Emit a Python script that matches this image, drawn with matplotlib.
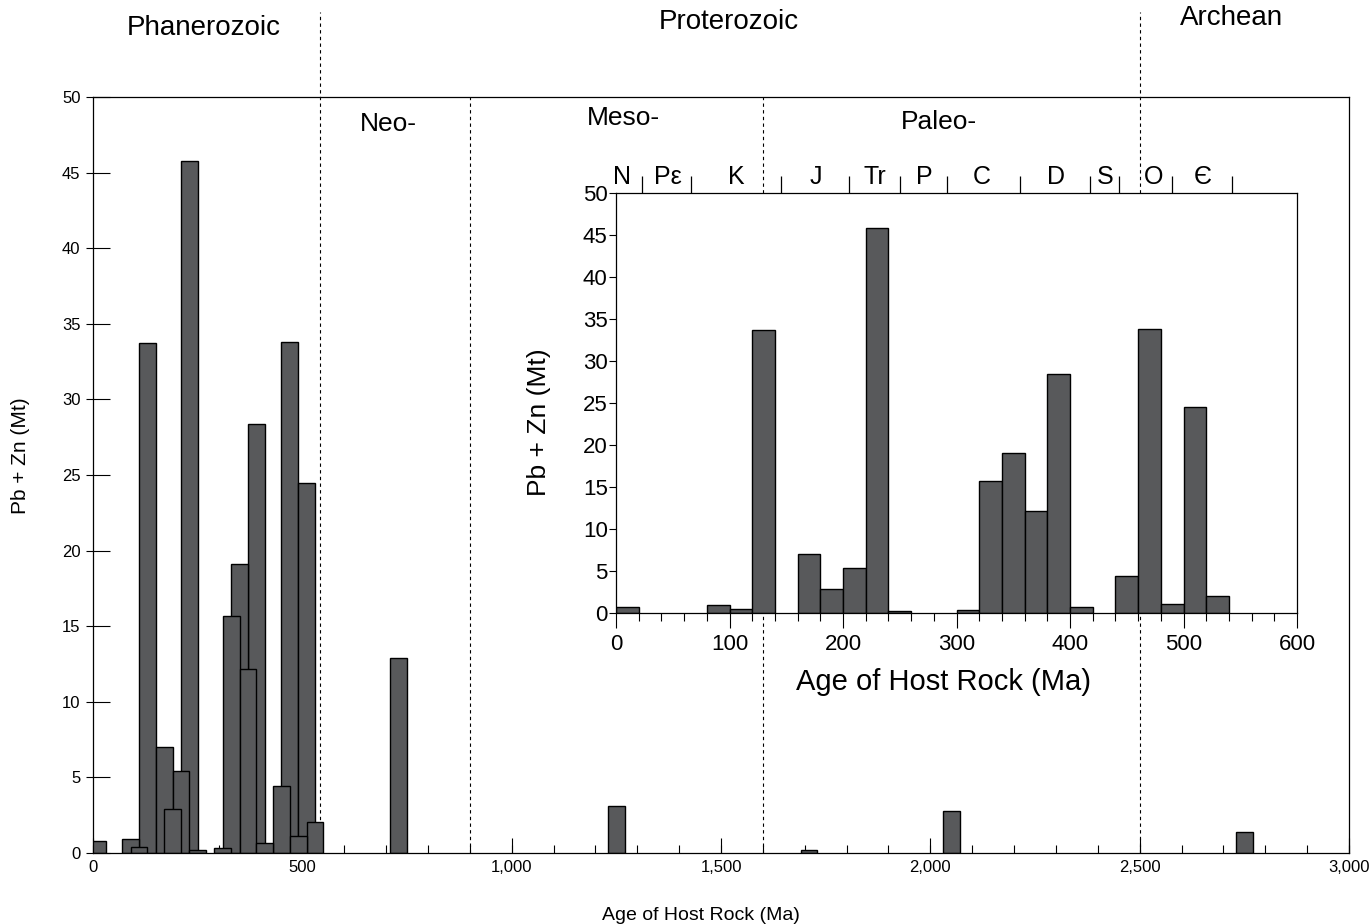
import matplotlib
matplotlib.use("Agg")
import matplotlib.pyplot as plt
import matplotlib.transforms as mtransforms
import numpy as np

plt.rcParams['font.family'] = ['Liberation Sans', 'DejaVu Sans']

# 20 Ma bins (left edge, Ma) and Pb + Zn tonnage (Mt)
bin_start = np.array([0, 80, 100, 120, 160, 180, 200, 220, 240, 300, 320, 340, 360,
                      380, 400, 440, 460, 480, 500, 520, 720, 1240, 1700, 2040, 2740])
pbzn = np.array([0.77, 0.95, 0.42, 33.7, 7.0, 2.9, 5.4, 45.8, 0.22, 0.35, 15.7, 19.1, 12.2,
                 28.4, 0.66, 4.4, 33.8, 1.1, 24.5, 2.05, 12.9, 3.1, 0.2, 2.75, 1.4])

# eon / era boundaries and labels (Ma)
eon_lines = [542, 2500]
era_lines = [900, 1600]
eon_names = ["Phanerozoic", "Proterozoic", "Archean"]
eon_pos = [265, 1519, 2720]
era_names = ["Neo-", "Meso-", "Paleo-"]
era_pos = [705, 1266, 2021]

# periods for inset (Ma)
period_bounds = [23, 66, 145, 205, 250, 292, 356, 418, 443, 490, 543]
period_names = ["N", "P\u03b5", "K", "J", "Tr", "P", "C", "D", "S", "O", "\u0404"]
period_pos = [5, 46, 106, 176, 228, 272, 322, 388, 431, 474, 517]

bar_col = "#58595b"

fig = plt.figure(figsize=(13.69, 9.24), dpi=100)
ax = fig.add_axes([93/1369, 71/924, 1256/1369, 756/924])

# main histogram: wide overlapping bars, shorter ones on top
order = np.argsort(-pbzn)
ax.bar(bin_start[order] + 10, pbzn[order], width=40, color=bar_col,
       edgecolor="black", linewidth=1.0, zorder=2)

ax.set_xlim(0, 3000)
ax.set_ylim(0, 50)

for x in eon_lines:
    ax.axvline(x, ymin=0, ymax=1.112, color="black", lw=0.8, ls=(0, (3, 3)),
               clip_on=False, zorder=1)
for x in era_lines:
    ax.axvline(x, color="black", lw=0.8, ls=(0, (3, 3)), zorder=1)

tr = mtransforms.blended_transform_factory(ax.transData, ax.transAxes)
for name, x, y in zip(eon_names, eon_pos, [1.091, 1.099, 1.104]):
    ax.text(x, y, name, transform=tr, ha="center", va="center", fontsize=20)
for name, x, y in zip(era_names, era_pos, [0.964, 0.972, 0.967]):
    ax.text(x, y, name, transform=tr, ha="center", va="center", fontsize=19)

ax.set_xticks(np.arange(0, 3001, 500))
ax.set_xticks(np.arange(0, 3001, 100), minor=True)
ax.set_xticklabels(["0", "500", "1,000", "1,500", "2,000", "2,500", "3,000"])
ax.xaxis.remove_overlapping_locs = False
ax.tick_params(axis="x", which="major", direction="in", length=11, width=0.8,
               labelsize=12, pad=5)
ax.tick_params(axis="x", which="minor", direction="in", length=6, width=0.8)

ax.set_yticks(np.arange(0, 51, 5))
ax.set_yticks(np.arange(0, 51, 5), minor=True)
ax.yaxis.remove_overlapping_locs = False
ax.tick_params(axis="y", which="major", direction="in", length=12, width=0.8,
               labelsize=12, pad=9)
ax.tick_params(axis="y", which="minor", direction="out", length=5, width=0.8)

ax.set_xlabel("Age of Host Rock (Ma)", fontsize=14)
ax.xaxis.set_label_coords(0.484, -0.072)
ax.set_ylabel("Pb + Zn (Mt)", fontsize=15)
ax.yaxis.set_label_coords(-0.050, 0.526)
for s in ax.spines.values():
    s.set_linewidth(0.9)

# inset: 0-600 Ma in 20 Ma bins
axi = fig.add_axes([616/1369, (924-613)/924, 681/1369, 420/924])
axi.set_facecolor("white")
axi.bar(bin_start, pbzn, width=20, align="edge", color=bar_col,
        edgecolor="black", linewidth=1.0, zorder=2)
axi.set_xlim(0, 600)
axi.set_ylim(0, 50)
axi.set_xticks(np.arange(0, 601, 100))
axi.set_xticks(np.arange(0, 601, 20), minor=True)
axi.tick_params(axis="x", which="major", direction="out", length=11, width=0.8,
                labelsize=16, pad=4)
axi.tick_params(axis="x", which="minor", direction="out", length=6, width=0.8)
axi.set_yticks(np.arange(0, 51, 5))
axi.tick_params(axis="y", direction="out", length=5, width=0.8, labelsize=16, pad=1)
axi.set_xlabel("Age of Host Rock (Ma)", fontsize=21)
axi.xaxis.set_label_coords(0.4816, -0.132)
axi.set_ylabel("Pb + Zn (Mt)", fontsize=19)
axi.yaxis.set_label_coords(-0.0955, 0.455)
for s in axi.spines.values():
    s.set_linewidth(0.9)

tri = mtransforms.blended_transform_factory(axi.transData, axi.transAxes)
axi.vlines(period_bounds, 1.0, 1.04, transform=tri, color="black", lw=0.9,
           clip_on=False)
for name, x in zip(period_names, period_pos):
    axi.text(x, 1.01, name, transform=tri, ha="center", va="bottom", fontsize=18)

fig.savefig("out.png", dpi=100)
